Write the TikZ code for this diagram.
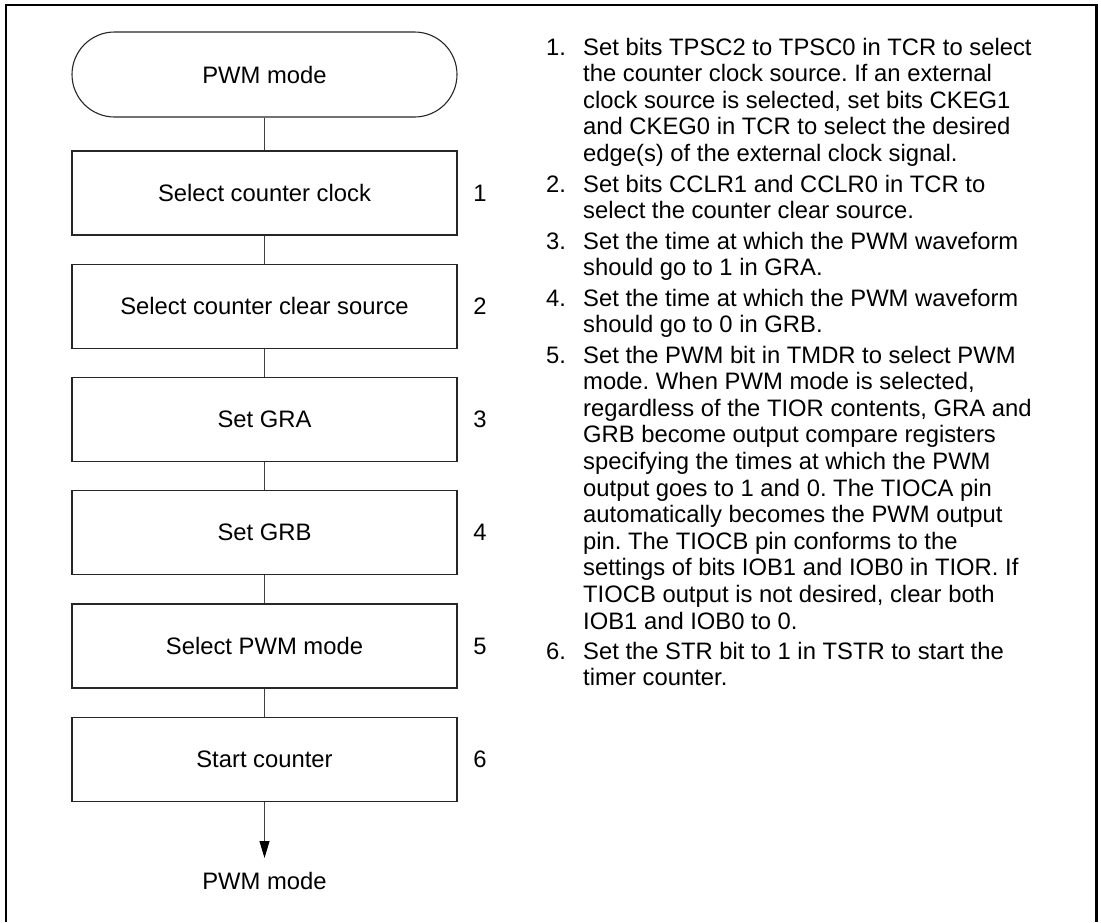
\documentclass[tikz,border=0pt]{standalone}
\usepackage{fontspec}
\setmainfont{Liberation Sans}
\usetikzlibrary{arrows.meta}
\frenchspacing
\begin{document}
\begin{tikzpicture}[x=1pt,y=-1pt,
  every node/.style={font=\fontsize{23.8}{26.6}\selectfont\frenchspacing},
  stepbox/.style={draw=black!85, line width=1.1pt, minimum width=385pt, minimum height=84pt, inner sep=0pt},
  term/.style={stepbox, minimum height=85pt, rounded corners=42.5pt},
  conn/.style={draw=black!75, line width=0.9pt},
  endarrow/.style={conn, -{Triangle[length=17pt,width=10pt,color=black]}},
  stepnum/.style={inner sep=0pt, anchor=center},
  itemtext/.style={inner sep=0pt, anchor=base west, align=left},
  frame/.style={line width=2.5pt, draw=black},
]
\useasboundingbox (0,0) rectangle (1101,922);
\draw[frame] (6,922) -- (6,5) -- (1096.5,5) -- (1096.5,922);

% flowchart
\node[term] (t) at (264.5,74.5) {PWM mode};
\node[stepbox] (b1) at (264.5,193) {Select counter clock};
\node[stepbox] (b2) at (264.5,306.25) {Select counter clear source};
\node[stepbox] (b3) at (264.5,419.5) {Set GRA};
\node[stepbox] (b4) at (264.5,532.75) {Set GRB};
\node[stepbox] (b5) at (264.5,646) {Select PWM mode};
\node[stepbox] (b6) at (264.5,759.25) {Start counter};
\coordinate (e) at (264.5,858);
\node[inner sep=0pt] (endlbl) at (264.5,881) {PWM mode};

\draw[conn] (t.south) -- (b1.north);
\draw[conn] (b1.south) -- (b2.north);
\draw[conn] (b2.south) -- (b3.north);
\draw[conn] (b3.south) -- (b4.north);
\draw[conn] (b4.south) -- (b5.north);
\draw[conn] (b5.south) -- (b6.north);
\draw[endarrow] (b6.south) -- (e);

% step numbers
\node[stepnum] (s1) at (480,193) {1};
\node[stepnum] (s2) at (480,306.25) {2};
\node[stepnum] (s3) at (480,419.5) {3};
\node[stepnum] (s4) at (480,532.75) {4};
\node[stepnum] (s5) at (480,646) {5};
\node[stepnum] (s6) at (480,759.25) {6};

% notes (text nodes anchored at the baseline of their last line)
\node[itemtext] (n1) at (546,55) {1.};
\node[itemtext] (x1) at (583,161.4) {Set bits TPSC2 to TPSC0 in TCR to select\\the counter clock source. If an external\\clock source is selected, set bits CKEG1\\and CKEG0 in TCR to select the desired\\edge(s) of the external clock signal.};
\node[itemtext] (n2) at (546,192) {2.};
\node[itemtext] (x2) at (583,218.6) {Set bits CCLR1 and CCLR0 in TCR to\\select the counter clear source.};
\node[itemtext] (n3) at (546,249) {3.};
\node[itemtext] (x3) at (583,275.6) {Set the time at which the PWM waveform\\should go to 1 in GRA.};
\node[itemtext] (n4) at (546,306) {4.};
\node[itemtext] (x4) at (583,332.6) {Set the time at which the PWM waveform\\should go to 0 in GRB.};
\node[itemtext] (n5) at (546,363) {5.};
\node[itemtext] (x5) at (583,629) {Set the PWM bit in TMDR to select PWM\\mode. When PWM mode is selected,\\regardless of the TIOR contents, GRA and\\GRB become output compare registers\\specifying the times at which the PWM\\output goes to 1 and 0. The TIOCA pin\\automatically becomes the PWM output\\pin. The TIOCB pin conforms to the\\settings of bits IOB1 and IOB0 in TIOR. If\\TIOCB output is not desired, clear both\\IOB1 and IOB0 to 0.};
\node[itemtext] (n6) at (546,659) {6.};
\node[itemtext] (x6) at (583,685.6) {Set the STR bit to 1 in TSTR to start the\\timer counter.};
\end{tikzpicture}
\end{document}
